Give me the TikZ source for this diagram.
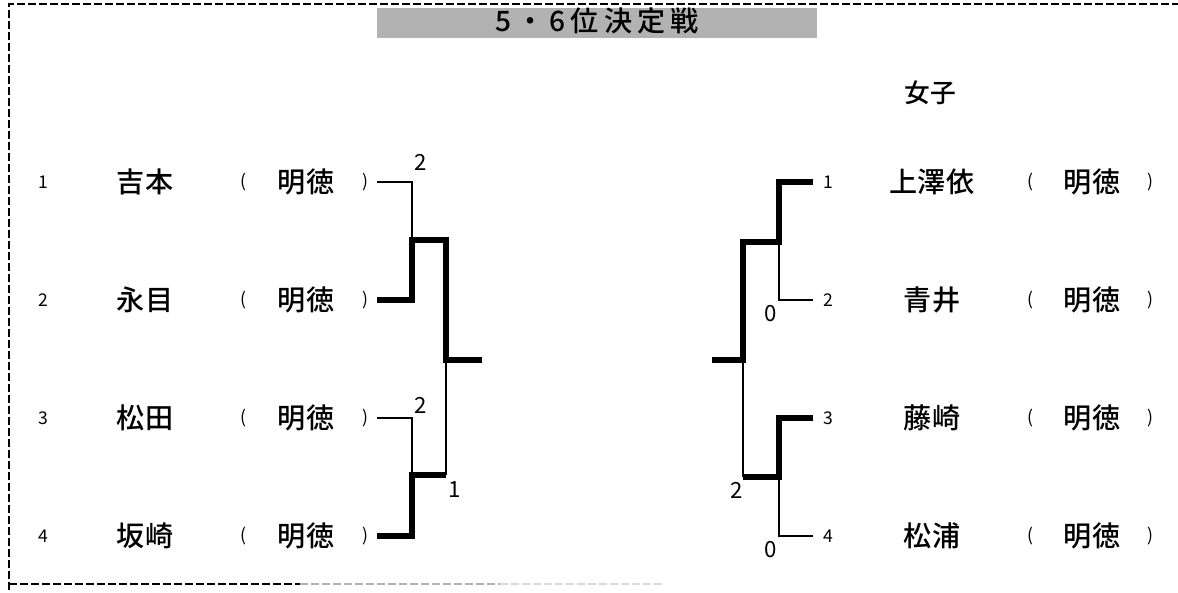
\documentclass[tikz,border=0pt]{standalone}
\usepackage{fontspec}
\setmainfont{Noto Sans CJK JP}[BoldFont={Noto Sans CJK JP Bold}]
\newfontfamily\medfont{Noto Sans CJK JP Medium}
\newcommand{\namefont}{\fontsize{24pt}{24pt}\selectfont\medfont}
\newcommand{\numfont}{\fontsize{15pt}{15pt}\selectfont}
\newcommand{\scorefont}{\fontsize{19pt}{19pt}\selectfont}
\newcommand{\parfont}{\fontsize{15pt}{15pt}\selectfont}
\tikzset{
  thinline/.style={line width=1.6pt},
  thickline/.style={line width=4.8pt},
  frameline/.style={line width=2.2pt, dash pattern=on 0.24cm off 0.09cm},
}

\begin{document}
\begin{tikzpicture}[x=0.03cm,y=-0.03cm]
\useasboundingbox (0,0) rectangle (1178,593);

\draw[frameline] (9,590) -- (9,4) -- (1178,4);
\draw[frameline] (9,584) -- (300,584);
\draw[frameline,gray!60] (300,584) -- (500,584);
\draw[frameline,gray!30] (500,584) -- (665,584);
\fill[black!30] (377,8) rectangle (817,38);
\node[align=center] (title) at (597,21) {\fontsize{24pt}{24pt}\selectfont\medfont\addfontfeature{LetterSpace=18}5・6位決定戦};
\node[align=center] (girls) at (930,93) {\fontsize{22pt}{22pt}\selectfont\medfont 女子};

% left
\node (ln1) at (43,182) {\numfont 1};
\node (ln2) at (43,300) {\numfont 2};
\node (ln3) at (43,418) {\numfont 3};
\node (ln4) at (43,536) {\numfont 4};
\node (lp1) at (145,182) {\namefont 吉本};
\node (lp2) at (145,300) {\namefont 永目};
\node (lp3) at (145,418) {\namefont 松田};
\node (lp4) at (145,536) {\namefont 坂崎};
\foreach \r/\y in {1/182,2/300,3/418,4/536}{
  \node (lo\r) at (243,\y) {\parfont (};
  \node (ls\r) at (306,\y) {\namefont 明徳};
  \node (lc\r) at (365,\y) {\parfont )};
}
\coordinate (l1) at (377,182);
\coordinate (l2) at (377,300);
\coordinate (l3) at (377,418);
\coordinate (l4) at (377,536);
\coordinate (ja) at (412,240);
\coordinate (jb) at (412,475);
\coordinate (jc) at (446,360);
\coordinate (fL) at (482,360);
\draw[thinline] (l1) -| (ja);
\draw[thinline] (l3) -| (jb);
\draw[thinline] (jb -| jc) -- (jc);
\draw[thickline] (l2) -| (ja) -- (ja -| jc) -- (jc) -- (fL);
\draw[thickline] (l4) -| (jb) -- (jb -| jc);
\node (lw1) at (421,162) {\scorefont 2};
\node (lw2) at (421,405) {\scorefont 2};
\node (lw3) at (455,490) {\scorefont 1};

% right
\node (rn1) at (828,182) {\numfont 1};
\node (rn2) at (828,300) {\numfont 2};
\node (rn3) at (828,418) {\numfont 3};
\node (rn4) at (828,536) {\numfont 4};
\node (rp1) at (932,182) {\namefont 上澤依};
\node (rp2) at (932,300) {\namefont 青井};
\node (rp3) at (932,418) {\namefont 藤崎};
\node (rp4) at (932,536) {\namefont 松浦};
\foreach \r/\y in {1/182,2/300,3/418,4/536}{
  \node (ro\r) at (1030,\y) {\parfont (};
  \node (rs\r) at (1092,\y) {\namefont 明徳};
  \node (rc\r) at (1150,\y) {\parfont )};
}
\coordinate (r1) at (813,182);
\coordinate (r2) at (813,300);
\coordinate (r3) at (813,418);
\coordinate (r4) at (813,536);
\coordinate (ka) at (779,242);
\coordinate (kb) at (779,477);
\coordinate (kc) at (743,360);
\coordinate (fR) at (712,360);
\draw[thinline] (r2) -| (ka);
\draw[thinline] (r4) -| (kb);
\draw[thinline] (kb -| kc) -- (kc);
\draw[thickline] (r1) -| (ka) -- (ka -| kc) -- (kc) -- (fR);
\draw[thickline] (r3) -| (kb) -- (kb -| kc);
\node (rw1) at (771,314) {\scorefont 0};
\node (rw2) at (737,490) {\scorefont 2};
\node (rw3) at (771,550) {\scorefont 0};
\end{tikzpicture}
\end{document}
